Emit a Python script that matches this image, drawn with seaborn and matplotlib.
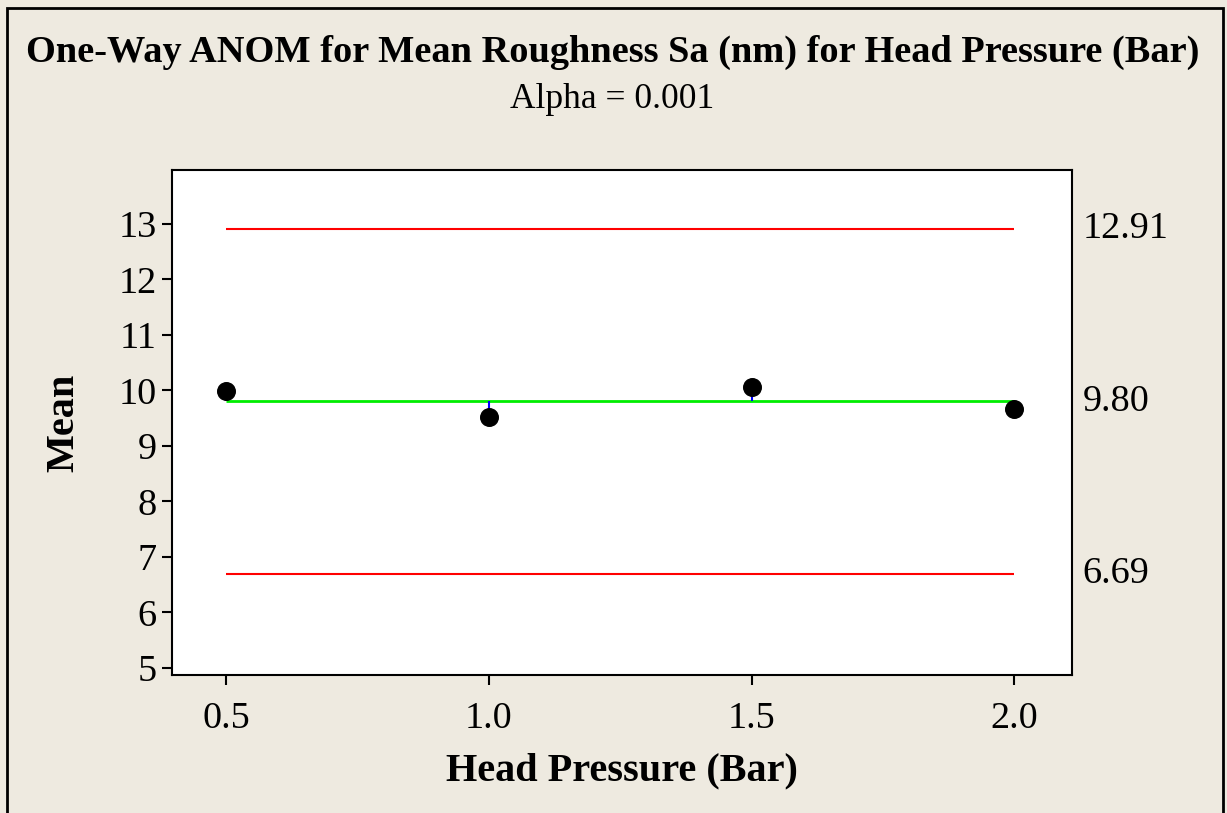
import matplotlib
matplotlib.use("Agg")
import matplotlib.pyplot as plt
import matplotlib.transforms as mtransforms
from matplotlib.patches import Rectangle
import pandas as pd
import seaborn as sns

pressure = [0.5, 1.0, 1.5, 2.0]
mean_sa = [9.98, 9.52, 10.06, 9.67]
center = 9.80
udl = 12.91
ldl = 6.69
limit_labels = ["12.91", "9.80", "6.69"]
yticks = [5, 6, 7, 8, 9, 10, 11, 12, 13]
xticks = [0.5, 1.0, 1.5, 2.0]

bg = "#EEEAE0"
sns.set_style("white")
plt.rcParams["font.family"] = ["Liberation Serif", "DejaVu Serif"]
plt.rcParams["text.color"] = "black"
plt.rcParams["axes.labelcolor"] = "black"
plt.rcParams["xtick.color"] = "black"
plt.rcParams["ytick.color"] = "black"

df = pd.DataFrame({"Head Pressure (Bar)": pressure, "Mean": mean_sa})

fig = plt.figure(figsize=(12.27, 8.13), dpi=100, facecolor=bg)
ax = fig.add_axes([0.1402, 0.1697, 0.7335, 0.6212])
ax.set_facecolor("white")

# decision limits and center line
ax.hlines([udl, ldl], pressure[0], pressure[-1], color="red", lw=1.5, zorder=2)
ax.hlines(center, pressure[0], pressure[-1], color="#00ee00", lw=2, zorder=2)
ax.vlines(pressure, center, mean_sa, color="blue", lw=1.5, zorder=2)
sns.scatterplot(data=df, x="Head Pressure (Bar)", y="Mean", ax=ax, color="black",
                s=160, edgecolor="black", zorder=3)

ax.set_xlim(0.397, 2.11)
ax.set_ylim(4.87, 13.97)
ax.set_xticks(xticks)
ax.set_xticklabels(["0.5", "1.0", "1.5", "2.0"])
ax.set_yticks(yticks)
ax.tick_params(axis="both", direction="out", length=7, width=1.5, color="black",
               labelcolor="black", labelsize=27.5, pad=4, left=True, bottom=True)
ax.tick_params(axis="x", pad=12)
for side, sp in ax.spines.items():
    sp.set_color("black")
    sp.set_linewidth(1.5)

ax.set_xlabel("Head Pressure (Bar)", fontsize=29, fontweight="bold", labelpad=12,
              color="black")
ax.set_ylabel("Mean", fontsize=29, fontweight="bold", labelpad=26, color="black")

trans = mtransforms.blended_transform_factory(ax.transAxes, ax.transData)
for val, lab in zip([udl, center, ldl], limit_labels):
    ax.text(1.012, val, lab, transform=trans, ha="left", va="center", fontsize=27.5,
            color="black")

fig.text(0.499, 0.936, "One-Way ANOM for Mean Roughness Sa (nm) for Head Pressure (Bar)",
         ha="center", va="center", fontsize=27.6, fontweight="bold", color="black")
fig.text(0.499, 0.878, "Alpha = 0.001", ha="center", va="center", fontsize=25.5,
         color="black")

fig.patches.append(Rectangle((0.0057, -0.01), 0.991, 1.0, transform=fig.transFigure,
                             fill=False, edgecolor="black", lw=2))

fig.savefig("out.png", dpi=100, facecolor=bg)
